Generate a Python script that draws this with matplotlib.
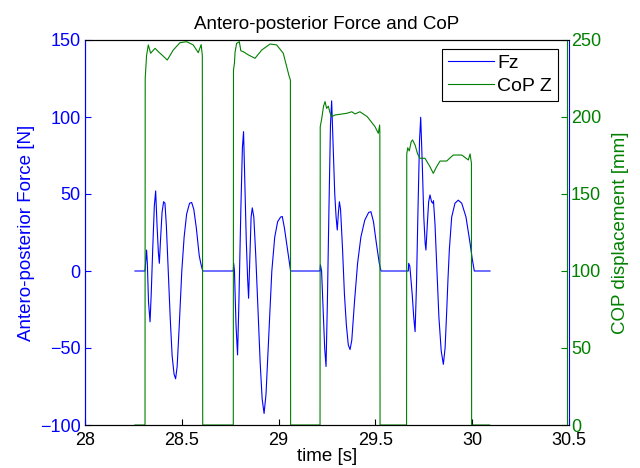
import matplotlib
matplotlib.use('Agg')
import matplotlib.pyplot as plt

plt.rcParams['font.family'] = ['Liberation Sans', 'DejaVu Sans']

# Fz (antero-posterior force, N)
t_fz = [28.258, 28.310, 28.315, 28.318, 28.322, 28.328, 28.336, 28.342, 28.350, 28.358, 28.365, 28.372, 28.379, 28.384,
        28.390, 28.398, 28.406, 28.413, 28.420, 28.430, 28.440, 28.450, 28.460, 28.468, 28.476, 28.487, 28.500, 28.512,
        28.525, 28.540, 28.551, 28.562, 28.575, 28.590, 28.598, 28.608,
        28.766, 28.768, 28.772, 28.780, 28.788, 28.795, 28.805, 28.813, 28.819, 28.825, 28.833, 28.840, 28.845, 28.852,
        28.858, 28.864, 28.872, 28.882, 28.895, 28.905, 28.915, 28.925, 28.935, 28.950, 28.965, 28.980, 28.995, 29.010,
        29.019, 29.030, 29.045, 29.062,
        29.214, 29.216, 29.222, 29.230, 29.238, 29.245, 29.252, 29.260, 29.268, 29.274, 29.282, 29.290, 29.297, 29.303,
        29.309, 29.314, 29.320, 29.330, 29.340, 29.350, 29.360, 29.369, 29.378, 29.392, 29.408, 29.425, 29.445, 29.465,
        29.477, 29.490, 29.505, 29.520, 29.529,
        29.670, 29.672, 29.678, 29.690, 29.698, 29.705, 29.712, 29.720, 29.728, 29.734, 29.742, 29.750, 29.757, 29.761,
        29.768, 29.775, 29.782, 29.790, 29.796, 29.800, 29.808, 29.818, 29.828, 29.840, 29.851, 29.860, 29.868, 29.875,
        29.882, 29.894, 29.911, 29.928, 29.946, 29.968, 29.989, 30.000, 30.011, 30.092]
fz = [0, 0, 8, 13.6, 5, -20, -33, -15, 15, 42, 52, 30, 12, 5,
      20, 38, 45, 44, 30, 0, -30, -55, -67, -70, -62, -35, 0, 22,
      37, 44, 44.5, 40, 28, 10, 5, 0,
      0, 5, 0, -35, -54.5, -20, 40, 80, 90.5, 60, 20, -5, -17.7, 10,
      35, 41, 35, 10, -30, -60, -83, -92.5, -80, -40, 0, 22, 32, 35,
      35.4, 28, 15, 0,
      0, 4, 0, -25, -50, -62, -20, 40, 95, 110.5, 80, 50, 35, 26.6,
      38, 45, 40, 15, -15, -35, -48, -51, -45, -20, 5, 22, 33, 38,
      38.5, 32, 18, 5, 0,
      0, 5, 3, -15, -30, -39.4, -10, 40, 85, 99.8, 70, 35, 18, 13.6,
      30, 45, 49.4, 45, 44, 45.6, 30, 0, -30, -52, -60.6, -50, -27, -5,
      14, 35, 44, 46, 44, 35, 18, 8, 0, 0]

# CoP Z (mm)
t_cop = [28.258, 28.310, 28.311, 28.318, 28.327, 28.339, 28.362, 28.379, 28.400, 28.425, 28.456, 28.491, 28.525,
         28.559, 28.585, 28.600, 28.606, 28.608,
         28.766, 28.767, 28.772, 28.775, 28.783, 28.797, 28.805, 28.818, 28.844, 28.878, 28.913, 28.956, 28.990,
         29.024, 29.055, 29.061, 29.062,
         29.214, 29.215, 29.223, 29.232, 29.240, 29.248, 29.257, 29.265, 29.274, 29.291, 29.352, 29.378, 29.395,
         29.420, 29.458, 29.498, 29.515, 29.522, 29.523, 29.524,
         29.661, 29.662, 29.667, 29.675, 29.685, 29.692, 29.705, 29.718, 29.730, 29.756, 29.782, 29.799, 29.816,
         29.834, 29.868, 29.902, 29.946, 29.980, 29.989, 29.996, 29.997, 30.090]
cop = [0, 0, 225, 240, 246.8, 241.4, 244.6, 242.4, 240, 237, 243.5, 248.3, 248.9,
       246.8, 241.8, 247, 240, 0,
       0, 230.5, 235, 242, 247.8, 248.9, 243, 242.4, 240.3, 238.1, 243.5, 247.4, 246.8,
       241.4, 226.2, 224, 0,
       0, 193.7, 199.1, 207, 210, 205.6, 207, 203, 200.2, 201.3, 202.4, 203.4, 202,
       203.4, 200.2, 193.7, 189.4, 194.8, 190, 0,
       0, 176, 180, 178, 184, 185.1, 181.8, 176, 173.2, 173.2, 167.7, 163.4, 167.7,
       171.4, 171.4, 175.3, 175.3, 172.1, 176, 170, 0, 0]

x_ticks = [28, 28.5, 29, 29.5, 30, 30.5]
x_labels = ['28', '28.5', '29', '29.5', '30', '30.5']
left_ticks = [-100, -50, 0, 50, 100, 150]
right_ticks = [0, 50, 100, 150, 200, 250]

BLUE = '#0000ff'; GREEN = '#008000'

fig = plt.figure(figsize=(6.4, 4.68), dpi=100)
ax = fig.add_axes([85/640, 1-425/468, (569-85)/640, (425-40)/468])
ax2 = ax.twinx()

l1, = ax.plot(t_fz, fz, color=BLUE, lw=0.8, label='Fz')
l2, = ax2.plot(t_cop, cop, color=GREEN, lw=0.8, label='CoP Z')

ax.set_xlim(28, 30.5); ax.set_ylim(-100, 150)
ax2.set_ylim(0, 250)
ax.set_xticks(x_ticks); ax.set_xticklabels(x_labels)
ax.set_yticks(left_ticks); ax2.set_yticks(right_ticks)

ax.tick_params(axis='x', direction='in', labelsize=13, length=4, colors='black', pad=5)
ax.tick_params(axis='y', direction='in', labelsize=13, length=4, colors=BLUE, pad=3)
ax2.tick_params(axis='y', direction='in', labelsize=13, length=4, colors=GREEN, pad=3)

for a in (ax, ax2):
    a.spines['top'].set_color('black'); a.spines['bottom'].set_color('black')
    for s in a.spines.values(): s.set_linewidth(0.8)
ax.spines['left'].set_color(BLUE); ax.spines['right'].set_color(BLUE)
ax2.spines['left'].set_color(BLUE); ax2.spines['right'].set_color(GREEN)
ax2.spines['right'].set_position(('outward', -1.5))

ax.set_xlabel('time [s]', fontsize=13.5, labelpad=-1)
ax.set_ylabel('Antero-posterior Force [N]', fontsize=13.5, color=BLUE, labelpad=4)
ax2.set_ylabel('COP displacement [mm]', fontsize=13.5, color=GREEN, labelpad=8)
ax.set_title('Antero-posterior Force and CoP', fontsize=13.5, pad=8)

leg = ax2.legend(handles=[l1, l2], loc='upper right', bbox_to_anchor=(0.977, 0.977), fontsize=14,
                 frameon=True, fancybox=False, edgecolor='black', framealpha=1, handlelength=2.4,
                 borderpad=0.3, labelspacing=0.25, handletextpad=0.15, borderaxespad=0)
leg.get_frame().set_linewidth(0.8)

fig.savefig('out.png', dpi=100)
